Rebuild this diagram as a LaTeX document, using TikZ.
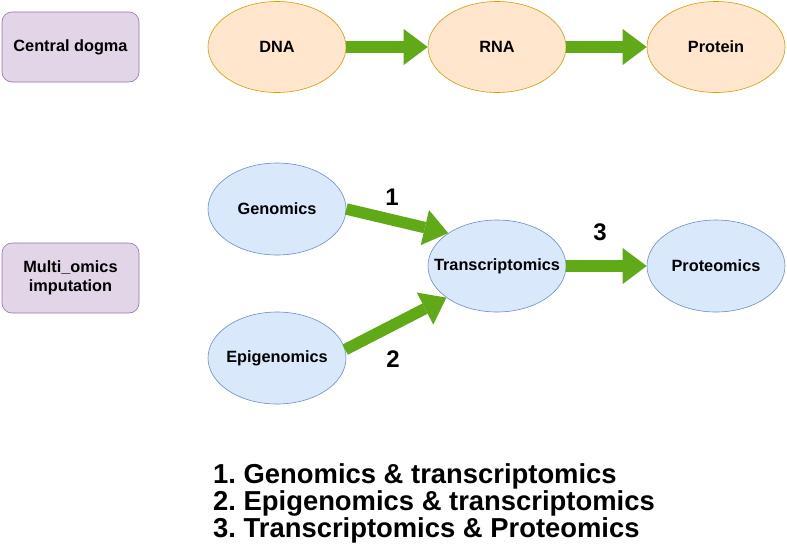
\documentclass[tikz,border=0pt]{standalone}
\usepackage{fontspec}
\setmainfont{Liberation Sans}
\usetikzlibrary{arrows.meta,shapes.geometric}
\definecolor{arrowgreen}{HTML}{60A917}
\definecolor{orangefill}{HTML}{FFE6CC}
\definecolor{orangedraw}{HTML}{D79B00}
\definecolor{bluefill}{HTML}{DAE8FC}
\definecolor{bluedraw}{HTML}{6C8EBF}
\definecolor{purplefill}{HTML}{E1D5E7}
\definecolor{purpledraw}{HTML}{9673A6}
\frenchspacing
\newcommand{\zw}[1]{\makebox[0pt][c]{#1}}
\tikzset{
  nodefont/.style={font=\fontsize{16.3}{19.5}\selectfont\bfseries},
  labelbox/.style={nodefont, draw=purpledraw, fill=purplefill, rounded corners=10pt,
    minimum width=137pt, minimum height=70pt, inner sep=0pt, align=center, line width=0.6pt},
  dogma/.style={nodefont, ellipse, draw=orangedraw, fill=orangefill,
    minimum width=138pt, minimum height=91pt, inner sep=0pt, line width=0.6pt},
  omics/.style={nodefont, ellipse, draw=bluedraw, fill=bluefill,
    minimum width=138pt, minimum height=92pt, inner sep=0pt, line width=0.6pt},
  bigarrow/.style={draw=arrowgreen, line width=11.5pt,
    -{Triangle[width=36pt,length=24pt,line width=0pt]}},
  numlabel/.style={font=\fontsize{24}{28}\selectfont\bfseries, inner sep=0pt},
  legend/.style={font=\fontsize{27.4}{27}\selectfont\bfseries, inner sep=0pt, anchor=base west}
}
\begin{document}
\begin{tikzpicture}[x=1pt,y=-1pt]
\useasboundingbox (0,0) rectangle (787,555);
% left labels
\node[labelbox] (cd) at (70.5,47) {Central dogma};
\node[labelbox] (mi) at (70.5,278) {Multi\_omics\\imputation};
% central dogma
\node[dogma] (dna) at (277,47) {\zw{DNA}};
\node[dogma] (rna) at (497,47) {\zw{RNA}};
\node[dogma] (prot) at (716,47) {\zw{Protein}};
\draw[bigarrow] (dna.east) -- (rna.west);
\draw[bigarrow] (rna.east) -- (prot.west);
% omics
\node[omics] (gen) at (277,209) {\zw{Genomics}};
\node[omics] (tra) at (497,266) {\zw{Transcriptomics}};
\node[omics] (epi) at (277,358) {\zw{Epigenomics}};
\node[omics] (pro) at (716,266) {\zw{Proteomics}};
\draw[bigarrow] (gen.east) -- (tra.146);
\draw[bigarrow] (epi.7) -- (tra.212);
\draw[bigarrow] (tra.east) -- (pro.west);
\node[numlabel] (n1) at (392,197) {1};
\node[numlabel] (n2) at (393,359) {2};
\node[numlabel] (n3) at (600,232) {3};
% legend
\node[legend] (l1) at (213,483) {1. Genomics \& transcriptomics};
\node[legend] (l2) at (213,510) {2. Epigenomics \& transcriptomics};
\node[legend] (l3) at (213,537) {3. Transcriptomics \& Proteomics};
\end{tikzpicture}
\end{document}
